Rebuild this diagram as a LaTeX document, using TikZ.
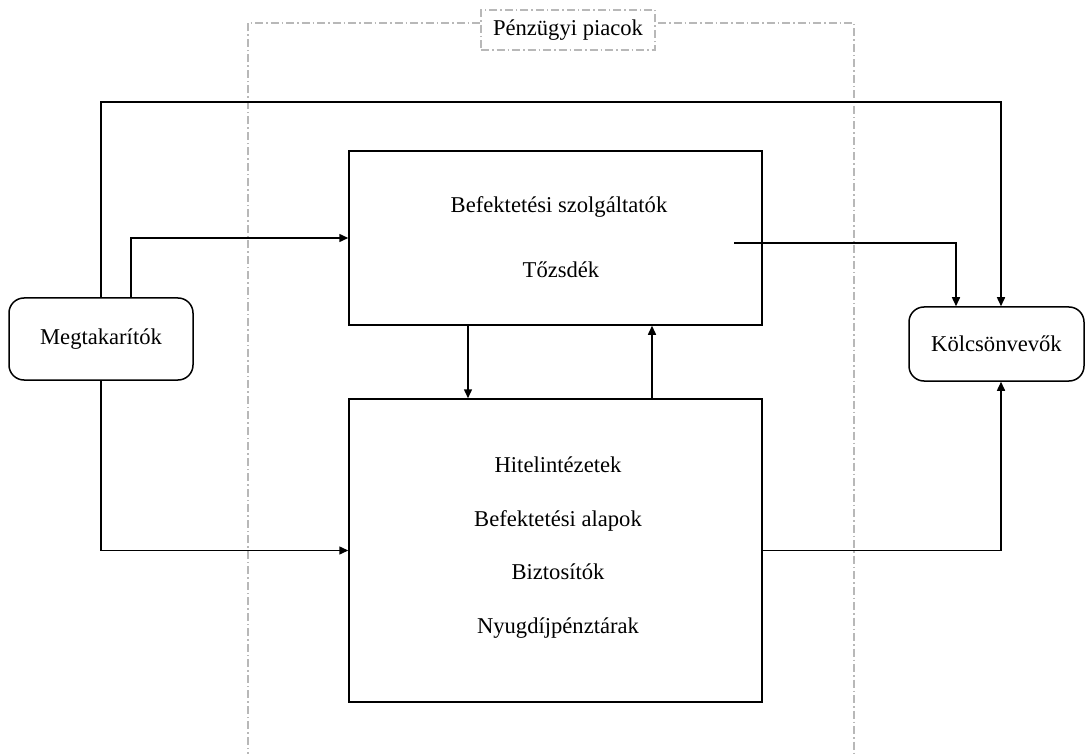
\documentclass[tikz,border=0pt]{standalone}
\usepackage{fontspec}
\setmainfont{Liberation Serif}
\usetikzlibrary{arrows.meta}

\begin{document}
\begin{tikzpicture}[x=1pt,y=-1pt,
  txt/.style={font=\fontsize{22.6pt}{27pt}\selectfont},
  party/.style={txt,draw,line width=1.5pt,rounded corners=15pt,inner sep=0pt},
  market/.style={draw,line width=1.5pt,inner sep=0pt},
  arr/.style={line width=1.5pt,-{Triangle[length=9pt,width=8pt]}},
  frame/.style={draw=black!28,line width=1.2pt,dash pattern=on 8pt off 3pt on 1.5pt off 3pt}]
\useasboundingbox (0,0) rectangle (1085,754);

\draw[frame] (248,760) |- (854,23) -- (854,760);
\node[txt,frame,fill=white,minimum width=174pt,minimum height=40pt,inner sep=0pt] (P) at (568,30) {Pénzügyi piacok};

\node[party,minimum width=184pt,minimum height=82pt] (M) at (101,339) {Megtakarítók};
\node[party,minimum width=175pt,minimum height=74pt] (K) at (996.5,344) {Kölcsönvevők};

\node[market,minimum width=413pt,minimum height=174pt] (T) at (555.5,238) {};
\node[market,minimum width=413pt,minimum height=303pt] (H) at (555.5,550.5) {};

\node[txt,anchor=base] (T1) at (559,213) {Befektetési szolgáltatók};
\node[txt,anchor=base] (T2) at (561,278) {Tőzsdék};
\node[txt,anchor=base] (H1) at (558,472) {Hitelintézetek};
\node[txt,anchor=base] (H2) at (558,526) {Befektetési alapok};
\node[txt,anchor=base] (H3) at (558,579) {Biztosítók};
\node[txt,anchor=base] (H4) at (558,633) {Nyugdíjpénztárak};

\coordinate (S) at (734,243);

\draw[arr] (M.north) |- (555,102) -| ([xshift=4.5pt]K.north);
\draw[arr] ([xshift=30pt]M.north) |- (T.west);
\draw[arr] (M.south) |- (H.west);
\draw[arr] ([xshift=-87.5pt]T.south) -- ([xshift=-87.5pt]H.north);
\draw[arr] ([xshift=96.5pt]H.north) -- ([xshift=96.5pt]T.south);
\draw[arr] (S) -| ([xshift=-40.5pt]K.north);
\draw[arr] (H.east) -| ([xshift=4.5pt]K.south);

\end{tikzpicture}
\end{document}
